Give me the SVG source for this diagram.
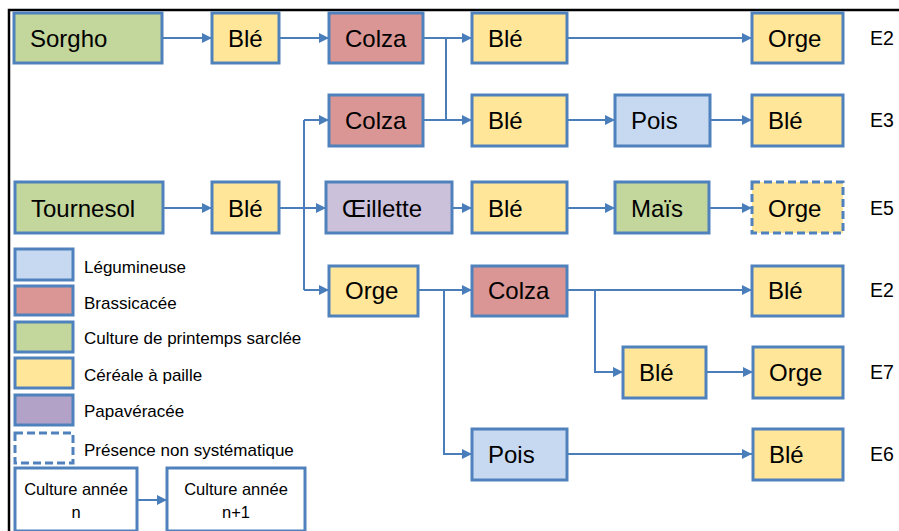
<svg xmlns="http://www.w3.org/2000/svg" width="899" height="531" viewBox="0 0 899 531">
<defs>
<marker id="ah" viewBox="0 0 10 10" refX="10" refY="5" markerWidth="10" markerHeight="10" markerUnits="userSpaceOnUse" orient="auto">
<path d="M0,0 L10,5 L0,10 z" fill="#4A7EBB"/>
</marker>
</defs>
<style>
.n{stroke:#4F81BD;stroke-width:3}
.g{fill:#C3D69B}.y{fill:#FFE699}.r{fill:#D99694}.b{fill:#C6D9F1}.p{fill:#CCC1DA}.pl{fill:#B3A2C7}.w{fill:#FFFFFF}
.d{stroke-dasharray:8 4}
.t{font-family:"Liberation Sans",Arial,sans-serif;font-size:24px;fill:#000}
.l{font-family:"Liberation Sans",Arial,sans-serif;font-size:17px;fill:#000}
.m{font-family:"Liberation Sans",Arial,sans-serif;font-size:16.5px;fill:#000}
.e{font-family:"Liberation Sans",Arial,sans-serif;font-size:19.5px;fill:#000}
.c path{fill:none;stroke:#4A7EBB;stroke-width:2}
</style>
<rect width="899" height="531" fill="#FFFFFF"/>
<rect x="9" y="10" width="900" height="530" fill="none" stroke="#000" stroke-width="2.5"/>

<g id="connectors" class="c">
<path d="M162,38 H212" marker-end="url(#ah)"/>
<path d="M279,38 H329" marker-end="url(#ah)"/>
<path d="M423,38 H472" marker-end="url(#ah)"/>
<path d="M423,120 H472" marker-end="url(#ah)"/>
<path d="M446,38 V120"/>
<path d="M567,38 H752" marker-end="url(#ah)"/>
<path d="M567,120 H615" marker-end="url(#ah)"/>
<path d="M710,120 H752" marker-end="url(#ah)"/>
<path d="M163,208 H212" marker-end="url(#ah)"/>
<path d="M279,208 H326" marker-end="url(#ah)"/>
<path d="M304,120 V290"/>
<path d="M304,120 H329" marker-end="url(#ah)"/>
<path d="M304,290 H329" marker-end="url(#ah)"/>
<path d="M452,208 H472" marker-end="url(#ah)"/>
<path d="M567,208 H615" marker-end="url(#ah)"/>
<path d="M709,208 H752" marker-end="url(#ah)"/>
<path d="M418,290 H472" marker-end="url(#ah)"/>
<path d="M444,290 V454 H472" marker-end="url(#ah)"/>
<path d="M567,290 H752" marker-end="url(#ah)"/>
<path d="M595,290 V372 H623" marker-end="url(#ah)"/>
<path d="M706,372 H753" marker-end="url(#ah)"/>
<path d="M567,454 H752" marker-end="url(#ah)"/>
<path d="M137,500 H167" marker-end="url(#ah)"/>
</g>

<g id="sorgho"><rect class="n g" x="14" y="13" width="148" height="50"/><text class="t" x="30" y="46.5">Sorgho</text></g>
<g id="ble1"><rect class="n y" x="212" y="13" width="67" height="50"/><text class="t" x="228" y="46.5">Blé</text></g>
<g id="colza1"><rect class="n r" x="329" y="13" width="94" height="50"/><text class="t" x="345" y="46.5">Colza</text></g>
<g id="ble2"><rect class="n y" x="472" y="13" width="95" height="50"/><text class="t" x="488" y="46.5">Blé</text></g>
<g id="orge-e2"><rect class="n y" x="752" y="13" width="91" height="50"/><text class="t" x="768" y="46.5">Orge</text></g>
<text class="e" x="870" y="44.5">E2</text>

<g id="colza2"><rect class="n r" x="329" y="95" width="94" height="51"/><text class="t" x="345" y="129">Colza</text></g>
<g id="ble3"><rect class="n y" x="472" y="95" width="95" height="51"/><text class="t" x="488" y="129">Blé</text></g>
<g id="pois1"><rect class="n b" x="615" y="95" width="95" height="51"/><text class="t" x="631" y="129">Pois</text></g>
<g id="ble-e3"><rect class="n y" x="752" y="95" width="91" height="51"/><text class="t" x="768" y="129">Blé</text></g>
<text class="e" x="870" y="127">E3</text>

<g id="tournesol"><rect class="n g" x="15" y="182" width="148" height="51"/><text class="t" x="31" y="216.5">Tournesol</text></g>
<g id="ble4"><rect class="n y" x="212" y="182" width="67" height="51"/><text class="t" x="228" y="216.5">Blé</text></g>
<g id="oeillette"><rect class="n p" x="326" y="182" width="126" height="51"/><text class="t" x="342" y="216.5">Œillette</text></g>
<g id="ble5"><rect class="n y" x="472" y="182" width="95" height="51"/><text class="t" x="488" y="216.5">Blé</text></g>
<g id="mais"><rect class="n g" x="615" y="182" width="94" height="51"/><text class="t" x="631" y="216.5">Maïs</text></g>
<g id="orge-e5"><rect class="n y d" x="752" y="182" width="91" height="51"/><text class="t" x="768" y="216.5">Orge</text></g>
<text class="e" x="870" y="214.5">E5</text>

<g id="orge2"><rect class="n y" x="329" y="266" width="89" height="50"/><text class="t" x="345" y="299">Orge</text></g>
<g id="colza3"><rect class="n r" x="472" y="266" width="95" height="50"/><text class="t" x="488" y="299">Colza</text></g>
<g id="ble-e2"><rect class="n y" x="752" y="266" width="91" height="50"/><text class="t" x="768" y="299">Blé</text></g>
<text class="e" x="870" y="297">E2</text>

<g id="ble6"><rect class="n y" x="623" y="347" width="83" height="51"/><text class="t" x="639" y="381">Blé</text></g>
<g id="orge-e7"><rect class="n y" x="753" y="347" width="90" height="51"/><text class="t" x="769" y="381">Orge</text></g>
<text class="e" x="870" y="379">E7</text>

<g id="pois2"><rect class="n b" x="472" y="429" width="95" height="51"/><text class="t" x="488" y="463">Pois</text></g>
<g id="ble-e6"><rect class="n y" x="753" y="429" width="90" height="51"/><text class="t" x="769" y="463">Blé</text></g>
<text class="e" x="870" y="461">E6</text>

<g id="legend">
<rect class="n b" x="15" y="249" width="58" height="31"/><text class="l" x="84" y="273">Légumineuse</text>
<rect class="n r" x="15" y="286" width="58" height="29"/><text class="l" x="84" y="309">Brassicacée</text>
<rect class="n g" x="15" y="322" width="58" height="30"/><text class="l" x="84" y="344">Culture de printemps sarclée</text>
<rect class="n y" x="15" y="358" width="58" height="30"/><text class="l" x="84" y="381">Céréale à paille</text>
<rect class="n pl" x="15" y="395" width="58" height="30"/><text class="l" x="84" y="417">Papavéracée</text>
<rect class="n w d" x="15" y="433" width="58" height="30"/><text class="l" x="84" y="456">Présence non systématique</text>
</g>
<g id="legend-n"><rect class="n w" x="15" y="468" width="122" height="63"/><text class="m" x="76" y="495" text-anchor="middle">Culture année</text><text class="m" x="76" y="518" text-anchor="middle">n</text></g>
<g id="legend-n1"><rect class="n w" x="167" y="468" width="138" height="63"/><text class="m" x="236" y="495" text-anchor="middle">Culture année</text><text class="m" x="236" y="518" text-anchor="middle">n+1</text></g>
</svg>
